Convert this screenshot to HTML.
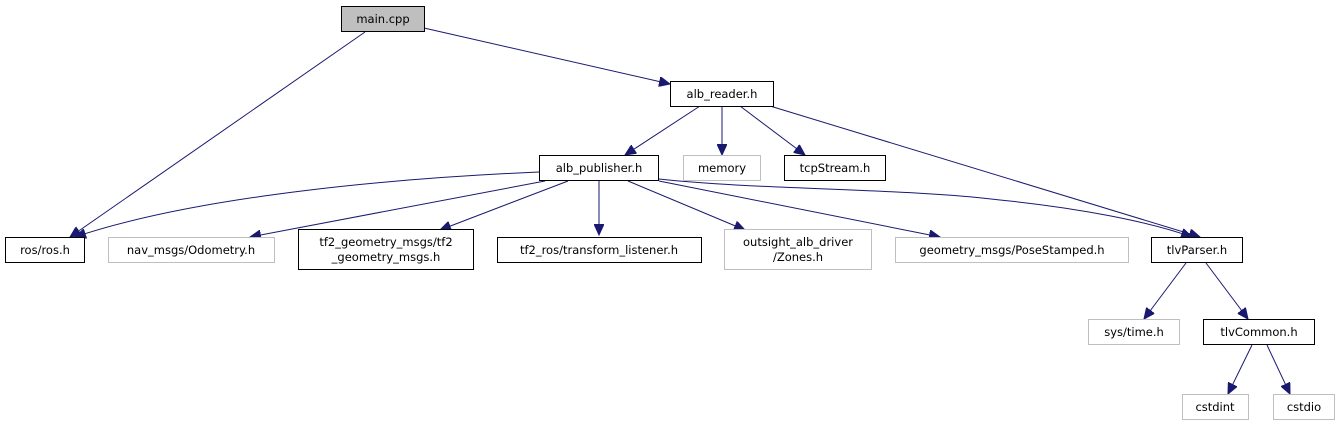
<!DOCTYPE html>
<html><head><meta charset="utf-8"><style>
html,body{margin:0;padding:0;background:#fff;width:1339px;height:425px;overflow:hidden}
text{font-family:"DejaVu Sans","Liberation Sans",sans-serif;font-size:11.5px;fill:#000;text-anchor:middle}
.g{fill:#fff;stroke:#bfbfbf;stroke-width:1}
.b{fill:#fff;stroke:#000;stroke-width:1}
path.e{fill:none;stroke:#191970;stroke-width:1;marker-end:url(#a)}
</style></head><body>
<svg width="1339" height="425" viewBox="0 0 1339 425" xmlns="http://www.w3.org/2000/svg">
<defs><marker id="a" markerUnits="userSpaceOnUse" markerWidth="12" markerHeight="10" refX="11" refY="5" orient="auto"><path d="M0,0 L11,5 L0,10 z" fill="#191970" stroke="#191970"/></marker></defs>
<path class="e" d="M365,32 L70,237"/>
<path class="e" d="M424,28 L670,84"/>
<path class="e" d="M700,106 L625,155"/>
<path class="e" d="M722,106 L722,155"/>
<path class="e" d="M740,106 L805,155"/>
<path class="e" d="M770,106 L1200,237"/>
<path class="e" d="M539,172 C400,178 200,195 75,237"/>
<path class="e" d="M545,181 L250,237"/>
<path class="e" d="M568,181 L440,230"/>
<path class="e" d="M599,181 L599,235"/>
<path class="e" d="M628,181 L745,230"/>
<path class="e" d="M659,181 L940,237"/>
<path class="e" d="M659,179 C760,190 900,188 1000,200 C1080,208 1150,222 1192,237"/>
<path class="e" d="M1186,263 L1144,319"/>
<path class="e" d="M1206,263 L1248,319"/>
<path class="e" d="M1252,345 L1228,394"/>
<path class="e" d="M1267,345 L1290,394"/>
<rect x="341.5" y="6.5" width="83" height="25" fill="#bfbfbf" stroke="#000"/><text x="383" y="23">main.cpp</text>
<rect class="b" x="670.5" y="81.5" width="103" height="25"/><text x="722" y="98">alb_reader.h</text>
<rect class="b" x="539.5" y="155.5" width="119" height="25"/><text x="599" y="172">alb_publisher.h</text>
<rect class="g" x="683.5" y="155.5" width="77" height="25"/><text x="722" y="172">memory</text>
<rect class="b" x="784.5" y="155.5" width="101" height="25"/><text x="835" y="172">tcpStream.h</text>
<rect class="b" x="5.5" y="237.5" width="79" height="25"/><text x="45" y="254">ros/ros.h</text>
<rect class="g" x="108.5" y="237.5" width="166" height="25"/><text x="191" y="254">nav_msgs/Odometry.h</text>
<rect class="b" x="298.5" y="229.5" width="175" height="40"/><text x="386" y="246">tf2_geometry_msgs/tf2</text><text x="386" y="261">_geometry_msgs.h</text>
<rect class="b" x="497.5" y="237.5" width="204" height="25"/><text x="599" y="254">tf2_ros/transform_listener.h</text>
<rect class="g" x="724.5" y="229.5" width="147" height="40"/><text x="798" y="246">outsight_alb_driver</text><text x="798" y="261">/Zones.h</text>
<rect class="g" x="895.5" y="237.5" width="233" height="25"/><text x="1012" y="254">geometry_msgs/PoseStamped.h</text>
<rect class="b" x="1151.5" y="237.5" width="91" height="25"/><text x="1197" y="254">tlvParser.h</text>
<rect class="g" x="1088.5" y="319.5" width="91" height="25"/><text x="1134" y="336">sys/time.h</text>
<rect class="b" x="1203.5" y="319.5" width="111" height="25"/><text x="1259" y="336">tlvCommon.h</text>
<rect class="g" x="1182.5" y="394.5" width="66" height="25"/><text x="1215" y="411">cstdint</text>
<rect class="g" x="1273.5" y="394.5" width="61" height="25"/><text x="1304" y="411">cstdio</text>
</svg>
</body></html>
